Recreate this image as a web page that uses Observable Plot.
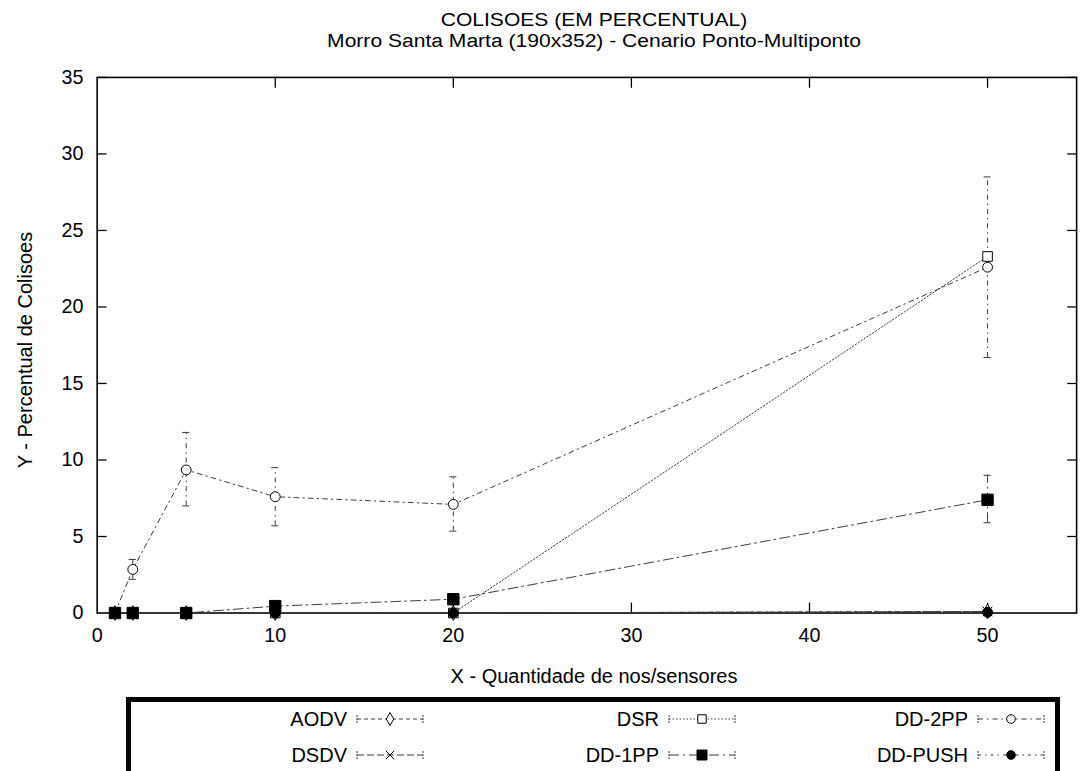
<!DOCTYPE html>
<html>
<head>
<meta charset="utf-8">
<script src="https://cdn.jsdelivr.net/npm/d3@7"></script>
<script src="https://cdn.jsdelivr.net/npm/@observablehq/plot@0.6"></script>
<style>
  html, body { margin: 0; padding: 0; background: #fff; }
  body { width: 1085px; height: 771px; overflow: hidden; position: relative;
         font-family: "Liberation Sans", Arial, Helvetica, sans-serif; color: #000; }
  #chart { position: absolute; left: 0; top: 0; z-index: 0; }
  .title { position: absolute; left: 594px; font-size: 18px; line-height: 21px; height: 21px;
           white-space: nowrap; z-index: 2; transform: translateX(-50%) scaleX(1.17); transform-origin: 50% 50%; }
  .axlabel { position: absolute; font-size: 20px; white-space: nowrap; z-index: 2; }
  #legendbox { position: absolute; left: 126px; top: 697px; width: 934px; height: 110px;
               border: 5px solid #000; box-sizing: border-box; z-index: 2; }
  .ltext { position: absolute; font-size: 20px; white-space: nowrap; text-align: right;
           transform: translateY(-50%); z-index: 3; }
  .lsample { position: absolute; z-index: 3; }
</style>
</head>
<body>
<div id="chart"></div>
<div class="title" style="top:10px">COLISOES (EM PERCENTUAL)</div>
<div class="title" style="top:31px">Morro Santa Marta (190x352) - Cenario Ponto-Multiponto</div>
<div class="axlabel" id="xlabel" style="left:594px; top:676px; transform:translate(-50%,-50%)">X - Quantidade de nos/sensores</div>
<div class="axlabel" id="ylabel" style="left:25px; top:350px; transform:translate(-50%,-50%) rotate(-90deg)">Y - Percentual de Colisoes</div>
<div id="legendbox"></div>
<div id="legend"></div>
<script>
// ---------------- data ----------------
const X_VALUES = [1, 2, 5, 10, 20, 50];
const SERIES = ["AODV", "DSDV", "DSR", "DD-1PP", "DD-2PP", "DD-PUSH"];

const AODV_Y   = [0, 0, 0, 0, 0, 0.1];
const DSDV_Y   = [0, 0, 0, 0, 0, 0.1];
const DSR_Y    = [0, 0, 0, 0, 0, 23.3];
const DD1PP_Y  = [0, 0, 0, 0.45, 0.9, 7.4];
const DD1PP_LO = [0, 0, 0, 0.45, 0.9, 5.9];
const DD1PP_HI = [0, 0, 0, 0.45, 0.9, 9.0];
const DD2PP_Y  = [0, 2.85, 9.35, 7.6, 7.1, 22.6];
const DD2PP_LO = [0, 2.2, 7.0, 5.7, 5.35, 16.7];
const DD2PP_HI = [0, 3.5, 11.8, 9.5, 8.9, 28.5];
const DDPUSH_Y = [0, 0, 0, 0, 0, 0.05];

const X_TICKS = [0, 10, 20, 30, 40, 50];
const Y_TICKS = [0, 5, 10, 15, 20, 25, 30, 35];

// ---------------- build table ----------------
const values = {
  "AODV":    {y: AODV_Y},
  "DSDV":    {y: DSDV_Y},
  "DSR":     {y: DSR_Y},
  "DD-1PP":  {y: DD1PP_Y, lo: DD1PP_LO, hi: DD1PP_HI},
  "DD-2PP":  {y: DD2PP_Y, lo: DD2PP_LO, hi: DD2PP_HI},
  "DD-PUSH": {y: DDPUSH_Y}
};
const rows = [];
for (const s of SERIES) {
  const v = values[s];
  X_VALUES.forEach((x, i) => rows.push({
    series: s, x, y: v.y[i],
    lo: v.lo ? v.lo[i] : v.y[i], hi: v.hi ? v.hi[i] : v.y[i]
  }));
}

// ---------------- styles ----------------
const LINE = "#3a3a3a";
const sty = {
  "AODV":    {dash: "4,3",        symbol: "diamond", fill: "white", stroke: "black", r: 4.5},
  "DSDV":    {dash: "7,3",        symbol: "times",   fill: "none",  stroke: "black", r: 4.5},
  "DSR":     {dash: "1.5,2",      symbol: "square",  fill: "white", stroke: "black", r: 5.5},
  "DD-1PP":  {dash: "10,4,2,4",   symbol: "square",  fill: "black", stroke: "black", r: 6.5},
  "DD-2PP":  {dash: "5,4,1.5,4",  symbol: "circle",  fill: "white", stroke: "black", r: 5},
  "DD-PUSH": {dash: "3,4,1.5,4",  symbol: "circle",  fill: "black", stroke: "black", r: 5}
};

const marks = [];
marks.push(Plot.frame({stroke: "black", strokeWidth: 1.6}));
// tick labels
marks.push(Plot.axisX(X_TICKS, {anchor: "bottom", tickSize: 0, tickPadding: 15, label: null, fontSize: 20}));
marks.push(Plot.axisY(Y_TICKS, {anchor: "left", tickSize: 0, tickPadding: 14, label: null, fontSize: 20}));
// inward ticks on all four sides
const blank = () => "";
marks.push(Plot.axisX(X_TICKS.slice(1), {anchor: "bottom", tickSize: 10, dy: -10, tickFormat: blank, label: null, strokeWidth: 1.3}));
marks.push(Plot.axisX(X_TICKS.slice(1), {anchor: "top", tickSize: 10, dy: 10, tickFormat: blank, label: null, strokeWidth: 1.3}));
marks.push(Plot.axisY(Y_TICKS.slice(1), {anchor: "left", tickSize: 10, dx: 10, tickFormat: blank, label: null, strokeWidth: 1.3}));
marks.push(Plot.axisY(Y_TICKS.slice(1), {anchor: "right", tickSize: 10, dx: -10, tickFormat: blank, label: null, strokeWidth: 1.3}));

// lines
for (const s of SERIES) {
  marks.push(Plot.line(rows.filter(d => d.series === s), {
    x: "x", y: "y", stroke: LINE, strokeWidth: 1, strokeDasharray: sty[s].dash
  }));
}
// error bars
const CAP = 0.2;
for (const s of SERIES) {
  const er = rows.filter(d => d.series === s && d.hi > d.lo);
  if (!er.length) continue;
  marks.push(Plot.ruleX(er, {x: "x", y1: "lo", y2: "hi", stroke: LINE, strokeWidth: 1, strokeDasharray: sty[s].dash}));
  marks.push(Plot.ruleY(er, {y: "lo", x1: d => d.x - CAP, x2: d => d.x + CAP, stroke: LINE, strokeWidth: 1}));
  marks.push(Plot.ruleY(er, {y: "hi", x1: d => d.x - CAP, x2: d => d.x + CAP, stroke: LINE, strokeWidth: 1}));
}
// symbols
for (const s of ["AODV", "DSDV", "DSR", "DD-2PP", "DD-1PP", "DD-PUSH"]) {
  const st = sty[s];
  marks.push(Plot.dot(rows.filter(d => d.series === s), {
    x: "x", y: "y", symbol: st.symbol, r: st.r, fill: st.fill, stroke: st.stroke, strokeWidth: 1
  }));
}

const chart = Plot.plot({
  width: 1100, height: 690,
  marginLeft: 98, marginRight: 9, marginTop: 78, marginBottom: 69,
  x: {domain: [0, 55]},
  y: {domain: [0, 35]},
  style: {fontFamily: "'Liberation Sans', Arial, Helvetica, sans-serif", fontSize: "20px", color: "black", background: "transparent", overflow: "visible"},
  marks
});
document.getElementById("chart").appendChild(chart);

// ---------------- legend ----------------
const LEG_COLS = [["AODV", "DSDV"], ["DSR", "DD-1PP"], ["DD-2PP", "DD-PUSH"]];
const textRight = [347, 659, 968];
const sampleLeft = [356, 668, 977];
const rowY = [719, 755];
const symMap = {diamond: d3.symbolDiamond, times: d3.symbolTimes, square: d3.symbolSquare, circle: d3.symbolCircle};
const legend = document.getElementById("legend");
LEG_COLS.forEach((col, ci) => {
  col.forEach((s, ri) => {
    const t = document.createElement("div");
    t.className = "ltext";
    t.textContent = s;
    t.style.right = (1085 - textRight[ci]) + "px";
    t.style.top = rowY[ri] + "px";
    legend.appendChild(t);
    const W = 68, H = 14;
    const svg = d3.create("svg").attr("class", "lsample").attr("width", W).attr("height", H)
      .style("left", sampleLeft[ci] + "px").style("top", (rowY[ri] - H / 2) + "px");
    svg.append("line").attr("x1", 1).attr("x2", W - 1).attr("y1", H / 2).attr("y2", H / 2)
      .attr("stroke", LINE).attr("stroke-dasharray", sty[s].dash);
    for (const cx of [1, W - 1]) {
      svg.append("line").attr("x1", cx).attr("x2", cx).attr("y1", H / 2 - 4).attr("y2", H / 2 + 4)
        .attr("stroke", LINE).attr("stroke-dasharray", "2,1");
    }
    const st = sty[s];
    const area = Math.PI * st.r * st.r * 0.75;
    svg.append("path").attr("d", d3.symbol(symMap[st.symbol], area)())
      .attr("transform", `translate(${W / 2},${H / 2})`)
      .attr("fill", st.fill).attr("stroke", st.stroke);
    legend.appendChild(svg.node());
  });
});
</script>
</body>
</html>
